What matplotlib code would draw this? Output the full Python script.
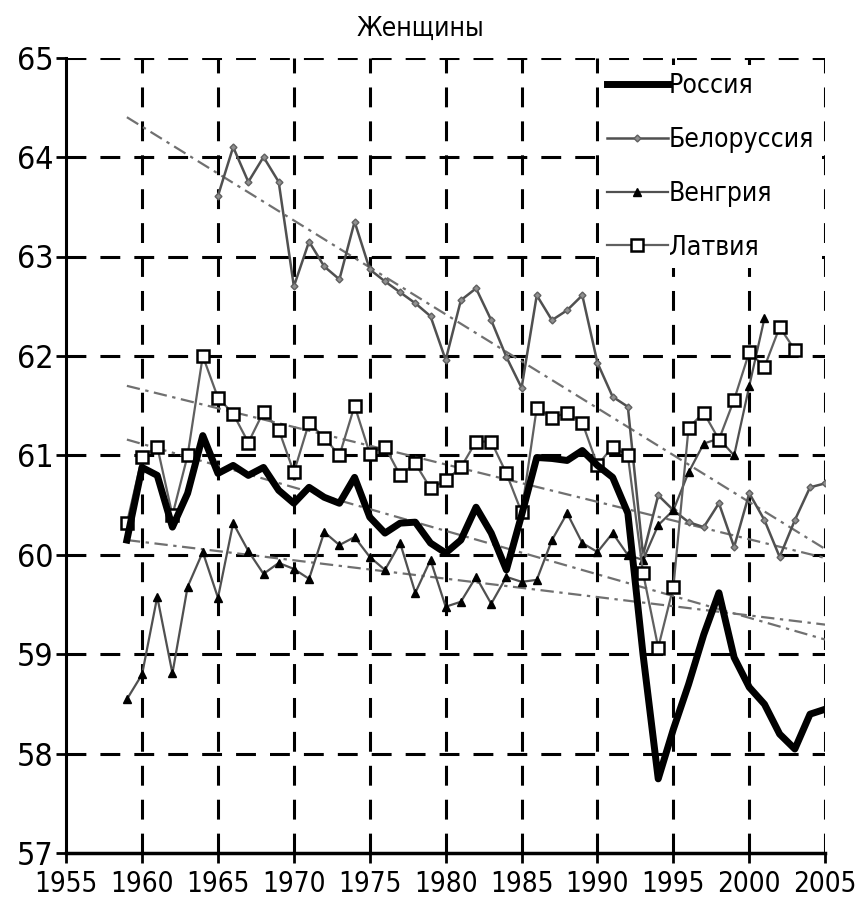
import numpy as np
import matplotlib.pyplot as plt

plt.rcParams['font.family'] = ['DejaVu Sans']
plt.rcParams['font.stretch'] = 'condensed'

# life expectancy, women
years_ru = np.arange(1959, 2006)
russia = [60.15, 60.88, 60.8, 60.28, 60.62, 61.2, 60.82, 60.9, 60.8, 60.88,
          60.65, 60.52, 60.68, 60.58, 60.52, 60.78, 60.38, 60.22, 60.32, 60.33,
          60.12, 60.02, 60.15, 60.48, 60.22, 59.85, 60.4, 60.98, 60.97, 60.95,
          61.05, 60.9, 60.78, 60.42, 59.0, 57.75, 58.25, 58.7, 59.2, 59.62,
          58.97, 58.67, 58.5, 58.2, 58.05, 58.4, 58.45]

years_by = np.arange(1965, 2006)
belarus = [63.61, 64.1, 63.75, 64.0, 63.75, 62.7, 63.15, 62.9, 62.77, 63.35,
           62.87, 62.75, 62.64, 62.53, 62.4, 61.96, 62.56, 62.68, 62.36, 61.99,
           61.68, 62.61, 62.36, 62.46, 62.61, 61.93, 61.59, 61.49, 60.0, 60.6,
           60.45, 60.33, 60.28, 60.52, 60.08, 60.62, 60.35, 59.98, 60.35, 60.68,
           60.72]

years_hu = np.arange(1959, 2002)
hungary = [58.55, 58.8, 59.58, 58.81, 59.68, 60.03, 59.57, 60.32, 60.04, 59.81,
           59.92, 59.86, 59.76, 60.23, 60.1, 60.18, 59.98, 59.85, 60.12, 59.62,
           59.95, 59.48, 59.53, 59.78, 59.51, 59.78, 59.73, 59.75, 60.15, 60.42,
           60.12, 60.03, 60.22, 60.0, 59.95, 60.3, 60.45, 60.83, 61.12, 61.17,
           61.0, 61.7, 62.38]

years_lv = np.arange(1959, 2004)
latvia = [60.32, 60.98, 61.09, 60.4, 61.0, 62.0, 61.58, 61.42, 61.13, 61.44,
          61.26, 60.83, 61.33, 61.18, 61.0, 61.5, 61.02, 61.09, 60.8, 60.92,
          60.67, 60.75, 60.88, 61.14, 61.14, 60.82, 60.43, 61.48, 61.38, 61.43,
          61.33, 60.9, 61.09, 61.0, 59.82, 59.07, 59.68, 61.28, 61.43, 61.16,
          61.56, 62.04, 61.89, 62.29, 62.06]

# linear trends (start, end)
trend_years = [1959, 2005]
trend_by = [64.4, 60.06]
trend_lv = [61.7, 59.97]
trend_ru = [61.16, 59.15]
trend_hu = [60.15, 59.3]

names = ['Россия', 'Белоруссия', 'Венгрия', 'Латвия']
xticks = np.arange(1955, 2006, 5)
yticks = np.arange(57, 66)

fig = plt.figure(figsize=(8.57, 9.0), dpi=100)
ax = fig.add_axes([0.0772, 0.0517, 0.8857, 0.8844])

# dashed grid
for x in xticks[1:]:
    ax.axvline(x, color='black', lw=2.2, ls=(0, (6.5, 4.6)), zorder=1)
for y in yticks[1:]:
    ax.axhline(y, color='black', lw=2.2, ls=(0, (6.5, 4.6)), zorder=1)

# trend lines
tstyle = dict(color='#707070', lw=1.6, ls=(0, (6, 2.5, 1.5, 2.5)), zorder=2)
for tr in [trend_by, trend_lv, trend_ru, trend_hu]:
    ax.plot(trend_years, tr, **tstyle)

l_by, = ax.plot(years_by, belarus, color='#505050', lw=1.8, marker='D', ms=3.5,
                mfc='#909090', mec='#606060', zorder=3)
l_hu, = ax.plot(years_hu, hungary, color='#505050', lw=1.6, marker='^', ms=6,
                mfc='black', mec='black', zorder=3)
l_lv, = ax.plot(years_lv, latvia, color='#606060', lw=1.6, marker='s', ms=8,
                mfc='white', mec='black', mew=1.8, zorder=4)
l_ru, = ax.plot(years_ru, russia, color='black', lw=5, solid_joinstyle='round',
                zorder=5)

ax.set_xlim(1955, 2005)
ax.set_ylim(57, 65)
ax.set_xticks(xticks)
ax.set_yticks(yticks)
ax.tick_params(width=2, length=7, direction='out')
ax.tick_params(axis='x', labelsize=20, pad=5)
ax.tick_params(axis='y', labelsize=23, pad=2)
for s in ['top', 'right']:
    ax.spines[s].set_visible(False)
ax.spines['left'].set_linewidth(2.2)
ax.spines['bottom'].set_linewidth(2.5)

leg = ax.legend([l_ru, l_by, l_hu, l_lv], names, loc='upper right',
                bbox_to_anchor=(0.996, 0.99), borderaxespad=0, fontsize=19,
                handlelength=2.3, handletextpad=0.05, labelspacing=1.05,
                frameon=True, fancybox=False, borderpad=0.3)
leg.get_frame().set_facecolor('white')
leg.get_frame().set_edgecolor('none')
leg.get_frame().set_alpha(1)
leg.set_zorder(10)

fig.text(0.49, 0.968, 'Женщины', ha='center', va='center', fontsize=19)

fig.savefig('out.png', dpi=100)
